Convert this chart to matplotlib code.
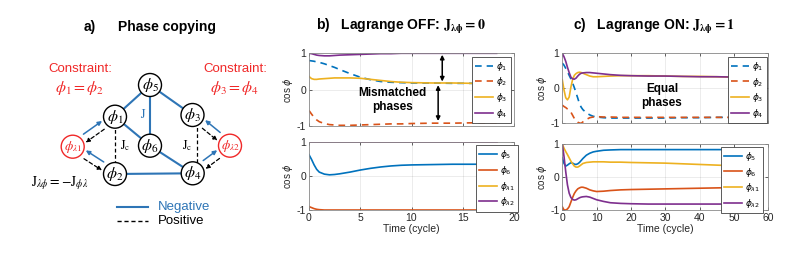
import matplotlib
matplotlib.use("Agg")
import matplotlib.pyplot as plt
import numpy as np

plt.rcParams['font.family'] = ['Liberation Sans', 'DejaVu Sans']
plt.rcParams['axes.unicode_minus'] = False

# ---------------- data: panel b (Lagrange OFF) ----------------
tb = [0, 0.25, 0.5, 0.75, 1, 1.5, 2, 2.5, 3, 4, 5, 6, 7, 8, 9, 10, 12, 14, 16, 18.3]
b_phi1 = [0.80, 0.79, 0.78, 0.76, 0.75, 0.71, 0.66, 0.61, 0.55, 0.44, 0.34, 0.27, 0.22, 0.20, 0.19, 0.18, 0.18, 0.17, 0.17, 0.17]
b_phi2 = [-0.58, -0.68, -0.77, -0.84, -0.89, -0.94, -0.97, -0.98, -0.99, -0.99, -0.98, -0.97, -0.96, -0.95, -0.95, -0.94, -0.93, -0.93, -0.92, -0.92]
b_phi3 = [0.36, 0.30, 0.28, 0.28, 0.29, 0.30, 0.31, 0.32, 0.32, 0.32, 0.31, 0.28, 0.25, 0.22, 0.20, 0.19, 0.18, 0.18, 0.17, 0.17]
b_phi4 = [1.00, 0.99, 0.97, 0.95, 0.94, 0.93, 0.93, 0.94, 0.95, 0.96, 0.97, 0.98, 0.99, 0.99, 1.00, 1.00, 1.00, 1.00, 1.00, 1.00]
b_phi5 = [0.62, 0.48, 0.32, 0.19, 0.11, 0.05, 0.03, 0.04, 0.06, 0.11, 0.17, 0.22, 0.26, 0.29, 0.31, 0.32, 0.33, 0.34, 0.34, 0.34]
b_phi6 = [-0.90, -0.93, -0.96, -0.98, -0.99, -1.00, -1.00, -1.00, -1.00, -1.00, -1.00, -1.00, -1.00, -1.00, -1.00, -1.00, -1.00, -1.00, -1.00, -1.00]
b_lam1 = [1.00] * 20
b_lam2 = [1.00] * 20

# ---------------- data: panel c (Lagrange ON) ----------------
tc = [0, 0.5, 1, 1.5, 2, 2.5, 3, 3.5, 4, 4.5, 5, 5.5, 6, 7, 8, 9, 10, 12, 14, 17, 20, 25, 30, 35, 40, 45, 50, 54.7]
c_phi1 = [0.72, 0.66, 0.57, 0.48, 0.37, 0.27, 0.15, 0.02, -0.13, -0.28, -0.44, -0.54, -0.61, -0.70, -0.76, -0.80, -0.82, -0.84, -0.85, -0.85, -0.85, -0.85, -0.85, -0.84, -0.84, -0.83, -0.83, -0.83]
c_phi2 = [-0.48, -0.52, -0.55, -0.59, -0.62, -0.68, -0.77, -0.86, -0.93, -0.97, -0.99, -1.00, -0.96, -0.89, -0.84, -0.82, -0.81, -0.82, -0.82, -0.83, -0.83, -0.83, -0.83, -0.83, -0.83, -0.83, -0.83, -0.83]
c_phi3 = [0.24, -0.05, -0.27, -0.33, -0.25, 0.03, 0.25, 0.37, 0.42, 0.45, 0.46, 0.45, 0.43, 0.39, 0.35, 0.33, 0.33, 0.34, 0.35, 0.36, 0.36, 0.36, 0.35, 0.34, 0.34, 0.33, 0.32, 0.32]
c_phi4 = [1.00, 0.90, 0.77, 0.60, 0.45, 0.32, 0.27, 0.26, 0.29, 0.35, 0.40, 0.43, 0.44, 0.45, 0.45, 0.44, 0.43, 0.41, 0.39, 0.37, 0.36, 0.35, 0.35, 0.34, 0.33, 0.33, 0.32, 0.32]
c_phi5 = [0.58, 0.41, 0.33, 0.36, 0.40, 0.43, 0.42, 0.39, 0.38, 0.40, 0.44, 0.50, 0.56, 0.66, 0.72, 0.76, 0.78, 0.81, 0.82, 0.83, 0.83, 0.83, 0.83, 0.83, 0.83, 0.83, 0.83, 0.83]
c_phi6 = [-0.90, -1.00, -1.00, -0.97, -0.90, -0.76, -0.62, -0.50, -0.42, -0.36, -0.33, -0.31, -0.31, -0.34, -0.39, -0.42, -0.44, -0.43, -0.41, -0.39, -0.38, -0.37, -0.36, -0.35, -0.34, -0.33, -0.32, -0.32]
c_lam1 = [1.00, 0.87, 0.77, 0.68, 0.58, 0.48, 0.40, 0.33, 0.30, 0.30, 0.33, 0.37, 0.41, 0.44, 0.45, 0.46, 0.46, 0.46, 0.45, 0.45, 0.44, 0.43, 0.42, 0.40, 0.38, 0.36, 0.34, 0.33]
c_lam2 = [1.00, 0.62, 0.16, -0.24, -0.49, -0.62, -0.68, -0.70, -0.69, -0.66, -0.63, -0.61, -0.60, -0.59, -0.61, -0.65, -0.69, -0.74, -0.78, -0.80, -0.81, -0.82, -0.82, -0.82, -0.82, -0.82, -0.82, -0.82]

top_labels = [r'$\phi_1$', r'$\phi_2$', r'$\phi_3$', r'$\phi_4$']
bot_labels = [r'$\phi_5$', r'$\phi_6$', r'$\phi_{\lambda1}$', r'$\phi_{\lambda2}$']

C_BLUE = '#0072BD'
C_ORANGE = '#D95319'
C_YELLOW = '#EDB120'
C_PURPLE = '#7E2F8E'
series_colors = [C_BLUE, C_ORANGE, C_YELLOW, C_PURPLE]
top_styles = ['--', '--', '-', '-']

W, H = 793, 264
fig = plt.figure(figsize=(W / 100, H / 100), dpi=100)


def px_axes(x0, y0, x1, y1):
    return fig.add_axes([x0 / W, 1 - y1 / H, (x1 - x0) / W, (y1 - y0) / H])


def style_axes(ax, xmax, xticks, show_xlabels):
    ax.set_xlim(0, xmax)
    ax.set_ylim(-1, 1)
    ax.set_xticks(xticks)
    ax.set_yticks([-1, 0, 1])
    ax.grid(True, color='#262626', alpha=0.1, lw=0.6)
    ax.tick_params(direction='in', length=2.5, width=0.5, top=True, right=True,
                   labelsize=7.5, colors='#262626', pad=2)
    for s in ax.spines.values():
        s.set_color('#8a8a8a')
        s.set_linewidth(0.6)
    ax.set_ylabel(r'cos $\phi$', fontsize=7, color='#262626', labelpad=1)
    if show_xlabels:
        ax.set_xlabel('Time (cycle)', fontsize=7.5, color='#262626', labelpad=1)
    else:
        ax.set_xticklabels([])


def legend(ax, anchor):
    lg = ax.legend(loc='upper right', bbox_to_anchor=anchor, borderaxespad=0,
                   fontsize=6.5, handlelength=2.0, handletextpad=0.3,
                   labelspacing=0.3, borderpad=0.35, fancybox=False,
                   framealpha=1, edgecolor='#404040')
    lg.get_frame().set_linewidth(0.6)


# ---------------- panel b ----------------
axb1 = px_axes(309, 53.3, 514, 125.7)
for y, c, ls, lab in zip([b_phi1, b_phi2, b_phi3, b_phi4], series_colors, top_styles, top_labels):
    axb1.plot(tb, y, color=c, ls=ls, lw=1.2, label=lab, dashes=(4, 3) if ls == '--' else (None, None))
style_axes(axb1, 20, [0, 5, 10, 15, 20], False)
legend(axb1, (0.984, 0.955))
axb1.annotate('', xy=(13.0, 0.96), xytext=(13.0, 0.22),
              arrowprops=dict(arrowstyle='<|-|>', color='black', lw=1.1, mutation_scale=6,
                              shrinkA=0, shrinkB=0))
axb1.annotate('', xy=(12.6, 0.12), xytext=(12.6, -0.87),
              arrowprops=dict(arrowstyle='<|-|>', color='black', lw=1.1, mutation_scale=6,
                              shrinkA=0, shrinkB=0))
axb1.text(8.15, -0.29, 'Mismatched\nphases', ha='center', va='center', fontsize=8.5,
          fontweight='bold', linespacing=1.25)

axb2 = px_axes(309, 141.7, 514, 210)
for y, c, lab in zip([b_phi5, b_phi6, b_lam1, b_lam2], series_colors, bot_labels):
    axb2.plot(tb, y, color=c, lw=1.2, label=lab)
style_axes(axb2, 20, [0, 5, 10, 15, 20], True)
legend(axb2, (1.02, 0.95))

# ---------------- panel c ----------------
axc1 = px_axes(562.3, 53.3, 768.3, 123.3)
for y, c, ls, lab in zip([c_phi1, c_phi2, c_phi3, c_phi4], series_colors, top_styles, top_labels):
    axc1.plot(tc, y, color=c, ls=ls, lw=1.2, label=lab, dashes=(4, 3) if ls == '--' else (None, None))
style_axes(axc1, 60, [0, 10, 20, 30, 40, 50, 60], False)
legend(axc1, (0.992, 0.951))
axc1.text(29, -0.23, 'Equal\nphases', ha='center', va='center', fontsize=8.5,
          fontweight='bold', linespacing=1.25)

axc2 = px_axes(562.3, 144, 768.3, 210)
for y, c, lab in zip([c_phi5, c_phi6, c_lam1, c_lam2], series_colors, bot_labels):
    axc2.plot(tc, y, color=c, lw=1.2, label=lab)
style_axes(axc2, 60, [0, 10, 20, 30, 40, 50, 60], True)
legend(axc2, (0.976, 0.96))

# ---------------- titles ----------------
fig.text(400.8 / W, 1 - 26.7 / H, r'b)   Lagrange OFF: $\mathbf{J_{\lambda\phi}=0}$',
         ha='center', va='center', fontsize=10, fontweight='bold', math_fontfamily='stix')
fig.text(654 / W, 1 - 26.7 / H, r'c)   Lagrange ON: $\mathbf{J_{\lambda\phi}=1}$',
         ha='center', va='center', fontsize=10, fontweight='bold', math_fontfamily='stix')
fig.text(90 / W, 1 - 26.7 / H, 'a)', ha='center', va='center', fontsize=10, fontweight='bold')
fig.text(167.5 / W, 1 - 26.7 / H, 'Phase copying', ha='center', va='center', fontsize=10,
         fontweight='bold')

# ---------------- panel a: diagram ----------------
axa = fig.add_axes([0, 0, 270 / W, 1], zorder=-1)
axa.set_xlim(0, 270)
axa.set_ylim(H, 0)
axa.axis('off')

D_BLUE = '#2E75B6'
D_RED = '#F02828'
R = 11.5
nodes = {'5': (150, 85), '1': (115, 116.7), '3': (192.5, 115), 'l1': (72.7, 146.7),
         '6': (150, 145.7), 'l2': (230, 145.7), '2': (115, 174), '4': (192.7, 173.3)}
node_text = {'5': r'$\phi_5$', '1': r'$\phi_1$', '3': r'$\phi_3$', '6': r'$\phi_6$',
             '2': r'$\phi_2$', '4': r'$\phi_4$', 'l1': r'$\phi_{\lambda1}$', 'l2': r'$\phi_{\lambda2}$'}

for a, b in [('5', '1'), ('5', '3'), ('5', '6'), ('1', '6'), ('6', '4'), ('2', '4')]:
    (x0, y0), (x1, y1) = nodes[a], nodes[b]
    axa.plot([x0, x1], [y0, y1], color=D_BLUE, lw=1.5, zorder=1, solid_capstyle='butt')
# coupling J_c dashed links (vertical)
axa.plot([115, 115], [116.7, 174], color='black', lw=0.9, ls=(0, (3, 2)), zorder=1)
axa.plot([196.5, 196.5], [115, 173.3], color='black', lw=0.9, ls=(0, (3, 2)), zorder=1)


def arrow(a, b, sign, color, dashed):
    A = np.array(nodes[a]); B = np.array(nodes[b])
    d = (B - A) / np.linalg.norm(B - A)
    n = np.array([-d[1], d[0]]) * sign
    off = 4.0 * n
    s = A + off + d * 16
    e = B + off - d * 13
    axa.annotate('', xy=e, xytext=s,
                 arrowprops=dict(arrowstyle='-|>', color=color, lw=1.1 if not dashed else 0.9,
                                 ls=(0, (3, 2)) if dashed else '-', mutation_scale=6,
                                 shrinkA=0, shrinkB=0), zorder=2)


# left side
arrow('l1', '1', -1, D_BLUE, False)
arrow('1', 'l1', -1, 'black', True)
arrow('l1', '2', 1, 'black', True)
arrow('2', 'l1', 1, D_BLUE, False)
# right side
arrow('l2', '3', 1, D_BLUE, False)
arrow('3', 'l2', 1, 'black', True)
arrow('l2', '4', -1, 'black', True)
arrow('4', 'l2', -1, D_BLUE, False)

for k, (x, y) in nodes.items():
    red = k.startswith('l')
    axa.add_patch(plt.Circle((x, y), R, facecolor='white', edgecolor=D_RED if red else 'black',
                             lw=1.0, zorder=3))
    axa.text(x, y, node_text[k], ha='center', va='center', fontsize=9.5 if red else 11.5,
             color=D_RED if red else 'black', math_fontfamily='stix', zorder=4)

axa.text(143.3, 115, r'$\mathrm{J}$', color=D_BLUE, fontsize=9, ha='center', va='center',
         math_fontfamily='stix')
axa.text(125.5, 145.7, r'$\mathrm{J_c}$', color='black', fontsize=9, ha='center', va='center',
         math_fontfamily='stix')
axa.text(187.5, 145.7, r'$\mathrm{J_c}$', color='black', fontsize=9, ha='center', va='center',
         math_fontfamily='stix')

axa.text(80, 69.3, 'Constraint:', color=D_RED, fontsize=9.5, ha='center', va='center')
axa.text(80, 88.3, r'$\phi_1 = \phi_2$', color=D_RED, fontsize=11.5, ha='center', va='center',
         math_fontfamily='stix')
axa.text(235, 69.3, 'Constraint:', color=D_RED, fontsize=9.5, ha='center', va='center')
axa.text(235, 88.3, r'$\phi_3 = \phi_4$', color=D_RED, fontsize=11.5, ha='center', va='center',
         math_fontfamily='stix')
axa.text(60, 182.7, r'$\mathrm{J}_{\lambda\phi} = -\mathrm{J}_{\phi\lambda}$', color='black',
         fontsize=10, ha='center', va='center', math_fontfamily='stix')

axa.plot([116.7, 148.3], [206.7, 206.7], color=D_BLUE, lw=1.5)
axa.text(158.3, 206.7, 'Negative', color=D_BLUE, fontsize=9.5, ha='left', va='center')
axa.plot([116.7, 148.3], [221, 221], color='black', lw=1.0, ls=(0, (3, 2)))
axa.text(158.3, 221, 'Positive', color='black', fontsize=9.5, ha='left', va='center')

fig.savefig('out.png', dpi=100)
